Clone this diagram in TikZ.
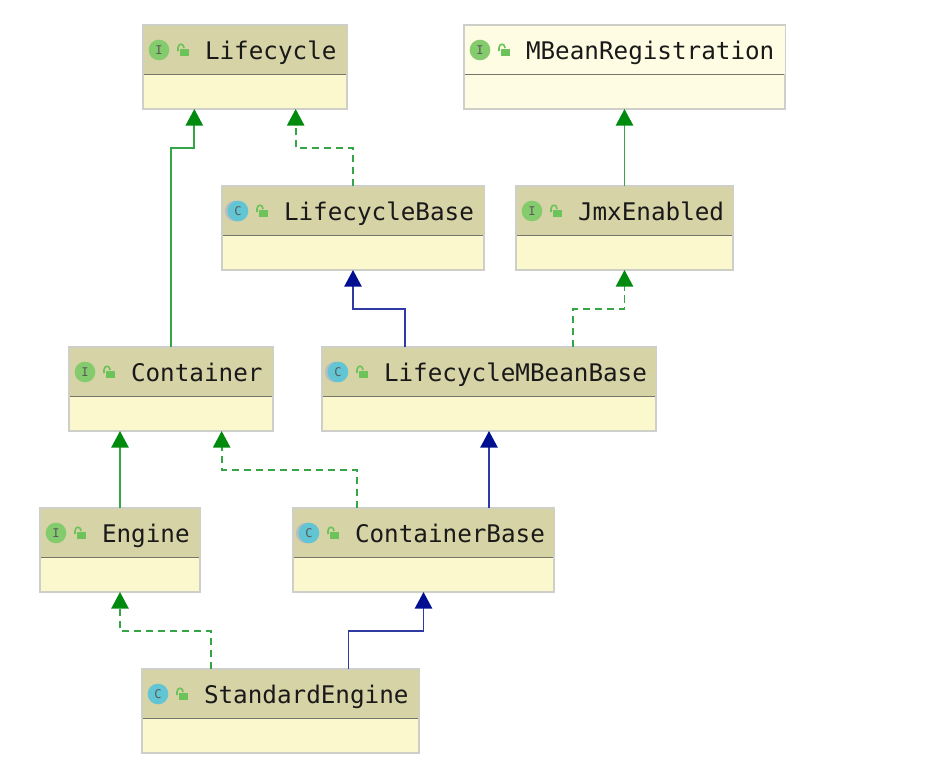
\documentclass[tikz,border=0pt]{standalone}
\usepackage{fontspec}
\setmonofont{DejaVu Sans Mono}
\usetikzlibrary{arrows.meta}

\definecolor{headerfill}{HTML}{D6D3A6}
\definecolor{bodyfill}{HTML}{FCF8CE}
\definecolor{palefill}{HTML}{FEFCE3}
\definecolor{boxedge}{HTML}{CFCFCA}
\definecolor{divider}{HTML}{75756A}
\definecolor{ifacegreen}{HTML}{84CB6E}
\definecolor{classcyan}{HTML}{62C5D3}
\definecolor{ringgrey}{HTML}{B5BCC4}
\definecolor{lockgreen}{HTML}{6CC35A}
\definecolor{tipgreen}{HTML}{008A0E}
\definecolor{linegreen}{HTML}{35A548}
\definecolor{tipblue}{HTML}{000F91}
\definecolor{lineblue}{HTML}{2F3BA3}

\tikzset{
    plainbody/.style={draw=boxedge, line width=1pt, fill=bodyfill, anchor=north west,
        inner sep=0pt, outer sep=0pt, minimum height=63pt},
    palebody/.style={plainbody, fill=palefill},
    plainhead/.style={fill=headerfill, anchor=north west, inner sep=0pt, outer sep=0pt,
        minimum height=36.3pt},
    palehead/.style={plainhead, fill=palefill},
    iconbase/.style={circle, inner sep=0pt, outer sep=0pt, minimum size=15.5pt,
        font=\ttfamily\fontsize{9}{9}\selectfont, text=black!65},
    ifaceicon/.style={iconbase, fill=ifacegreen},
    classicon/.style={iconbase, fill=classcyan},
    abstracticon/.style={iconbase, fill=classcyan,
        preaction={fill=ringgrey, transform canvas={xshift=-2pt}}},
    classlabel/.style={anchor=base west, inner sep=0pt, outer sep=0pt,
        font=\ttfamily\fontsize{18.2}{20}\selectfont, text=black!90},
    extends/.style={-{Triangle[length=12.5pt,width=13pt,color=tipgreen]}, linegreen, line width=1.3pt},
    implements/.style={extends, dash pattern=on 5.5pt off 3.5pt},
    extendsclass/.style={-{Triangle[length=12.5pt,width=13pt,color=tipblue]}, lineblue, line width=1.3pt},
}

% name, x, y, width, label, letter, plain or pale, icon style
\newcommand{\classbox}[8]{
    \begin{scope}[shift={(#2,#3)}]
        \node[#7body, minimum width=#4*0.75pt] (#1) at (0,0) {};
        \node[#7head, minimum width=#4*0.75pt-1pt] (#1-head) at (1,1) {};
        \draw[divider, line width=1.4pt] (1,49.5) -- (#4-1,49.5);
        \node[#8] (#1-icon) at (16,25) {#6};
        \fill[lockgreen] (36.5,23.5) rectangle (46,31);
        \draw[lockgreen, line width=1.2pt] (35,26) -- (35,23) .. controls (35,18) and (41,18) .. (41,23);
        \node[classlabel] (#1-label) at (62,34) {#5};
    \end{scope}
}

\begin{document}
\begin{tikzpicture}[x=0.75pt, y=-0.75pt]
    \useasboundingbox (0,0) rectangle (925,771);

    \classbox{lifecycle}{143}{25}{204}{Lifecycle}{I}{plain}{ifaceicon}
    \classbox{mbeanreg}{464}{25}{321}{MBeanRegistration}{I}{pale}{ifaceicon}
    \classbox{lifecyclebase}{222}{186}{262}{LifecycleBase}{C}{plain}{abstracticon}
    \classbox{jmxenabled}{516}{186}{217}{JmxEnabled}{I}{plain}{ifaceicon}
    \classbox{container}{69}{347}{204}{Container}{I}{plain}{ifaceicon}
    \classbox{lifecyclembean}{322}{347}{334}{LifecycleMBeanBase}{C}{plain}{abstracticon}
    \classbox{engine}{40}{508}{160}{Engine}{I}{plain}{ifaceicon}
    \classbox{containerbase}{293}{508}{261}{ContainerBase}{C}{plain}{abstracticon}
    \classbox{standardengine}{142}{669}{277}{StandardEngine}{C}{plain}{classicon}

    \draw[extends] (container.north) -- ++(0,-199) -| ([xshift=-38pt]lifecycle.south);
    \draw[implements] (lifecyclebase.north) -- ++(0,-38) -| ([xshift=38pt]lifecycle.south);
    \draw[extends] (jmxenabled.north) -- (mbeanreg.south);
    \draw[extendsclass] ([xshift=-63pt]lifecyclembean.north) -- ++(0,-38) -| (lifecyclebase.south);
    \draw[implements] ([xshift=63pt]lifecyclembean.north) -- ++(0,-38) -| (jmxenabled.south);
    \draw[extends] (engine.north) -- ([xshift=-38.25pt]container.south);
    \draw[implements] ([xshift=-50pt]containerbase.north) -- ++(0,-38) -| ([xshift=38pt]container.south);
    \draw[extendsclass] (lifecyclembean.south |- containerbase.north) -- (lifecyclembean.south);
    \draw[implements] ([xshift=-52pt]standardengine.north) -- ++(0,-38) -| (engine.south);
    \draw[extendsclass] ([xshift=51pt]standardengine.north) -- ++(0,-38) -| (containerbase.south);
\end{tikzpicture}
\end{document}
